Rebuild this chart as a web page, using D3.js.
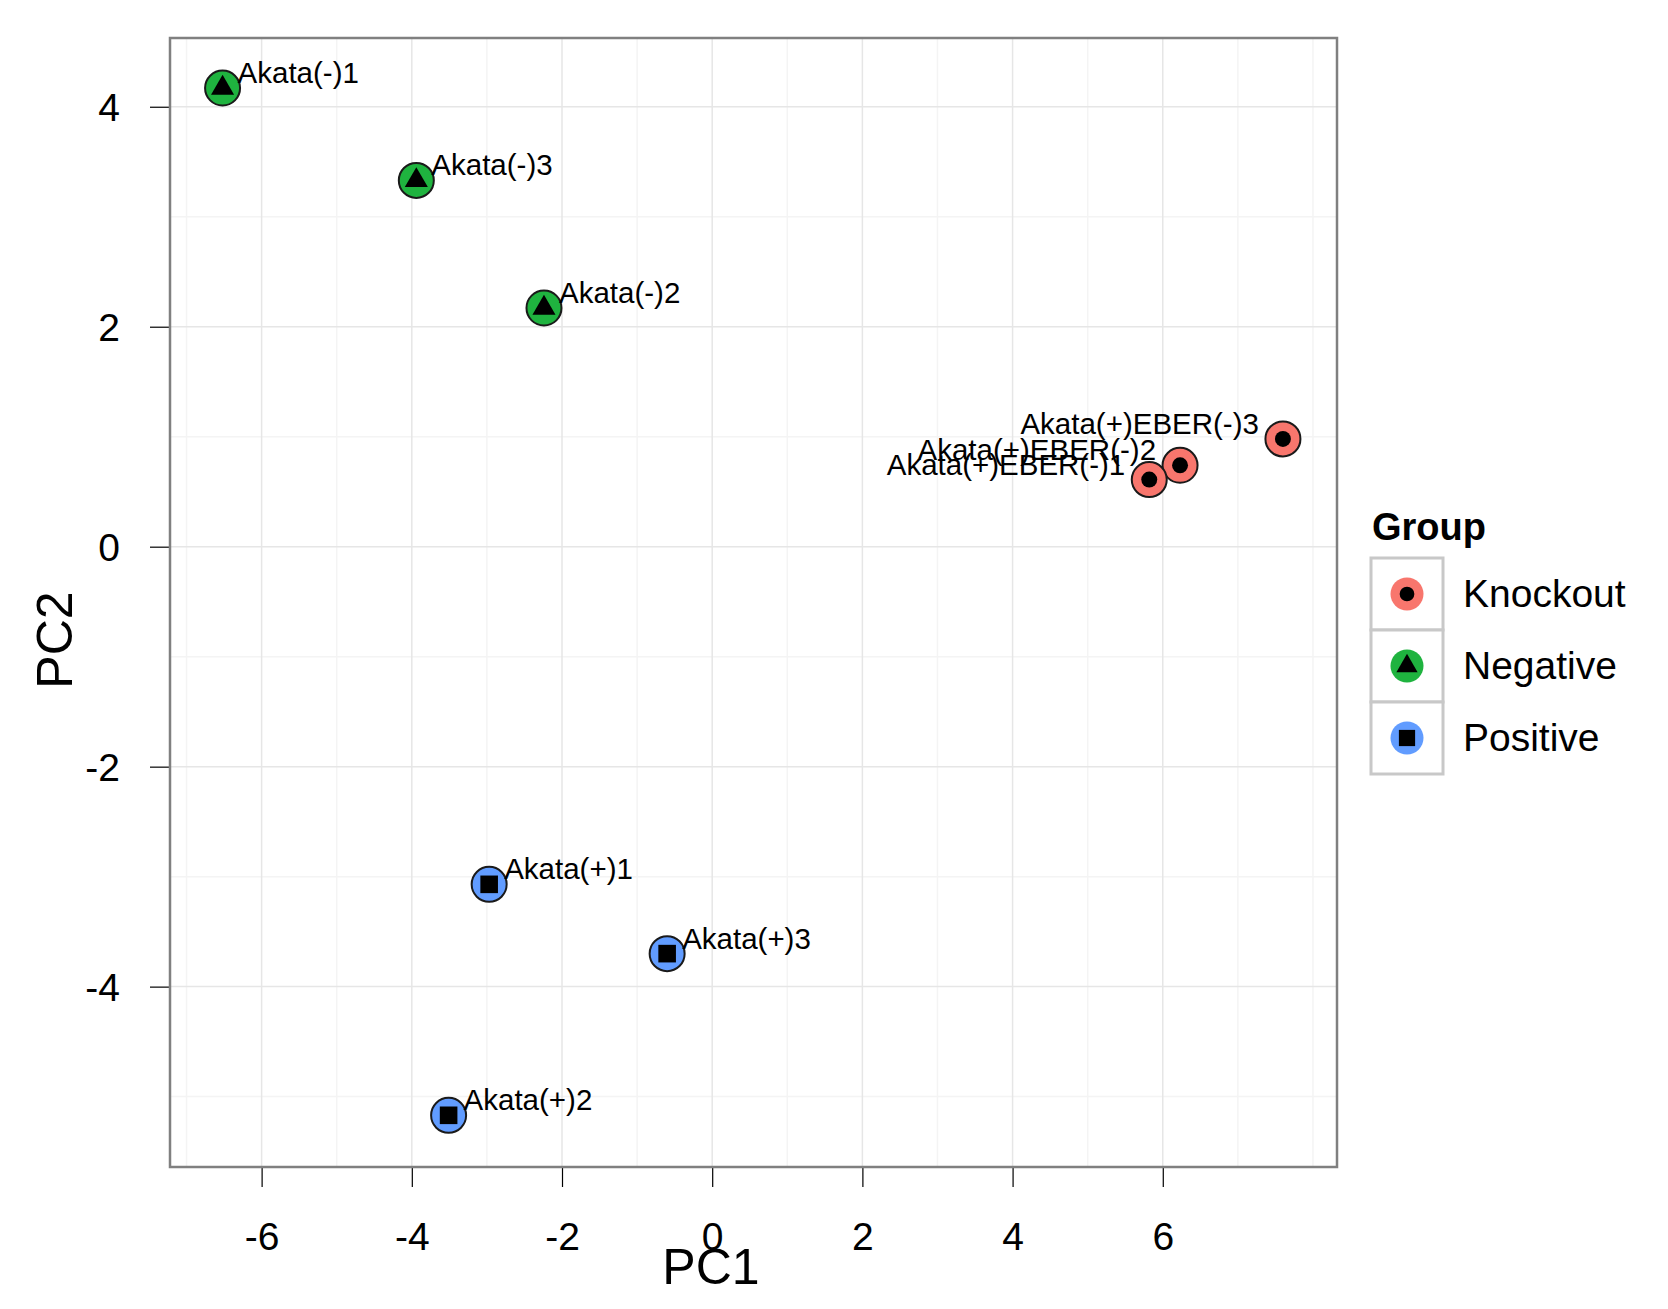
<!DOCTYPE html>
<html><head><meta charset="utf-8">
<script src="https://cdn.jsdelivr.net/npm/d3@7"></script>
<style>body{margin:0;background:#fff;} text{font-family:Arial,"Liberation Sans",sans-serif;}</style>
</head><body>
<svg id="c" width="1668" height="1309"></svg>
<script>
const sampleNames = ["Akata(-)1","Akata(-)3","Akata(-)2","Akata(+)EBER(-)3","Akata(+)EBER(-)2","Akata(+)EBER(-)1","Akata(+)1","Akata(+)3","Akata(+)2"];
const pc1Values = [-6.52,-3.94,-2.24,7.60,6.23,5.82,-2.97,-0.60,-3.51];
const pc2Values = [4.17,3.33,2.17,0.98,0.74,0.61,-3.07,-3.70,-5.17];
const sampleGroups = ["Negative","Negative","Negative","Knockout","Knockout","Knockout","Positive","Positive","Positive"];
const groupNames = ["Knockout","Negative","Positive"];
const groupColors = ["#F8766D","#1fb33f","#619CFF"];
const xTicks = [-6,-4,-2,0,2,4,6];
const yTicks = [-4,-2,0,2,4];
const xMinor = [-7,-5,-3,-1,1,3,5,7,8];
const yMinor = [-5,-3,-1,1,3];

const svg = d3.select("#c");
svg.append("rect").attr("width",1668).attr("height",1309).attr("fill","#fff");
const L=170,R=1337,T=38,B=1167;
const x = d3.scaleLinear().domain([-7.22,8.32]).range([L,R]);
const y = d3.scaleLinear().domain([-5.64,4.625]).range([B,T]);
const color = d3.scaleOrdinal().domain(groupNames).range(groupColors);
const shapeOf = {Knockout:d3.symbolCircle, Negative:d3.symbolTriangle, Positive:d3.symbolSquare};
const sizeOf = {Knockout:200, Negative:230, Positive:310};

const g = svg.append("g");
g.selectAll(".mx").data(xMinor).join("line").attr("x1",d=>x(d)).attr("x2",d=>x(d)).attr("y1",T).attr("y2",B).attr("stroke","#f4f4f4").attr("stroke-width",1.5);
g.selectAll(".my").data(yMinor).join("line").attr("y1",d=>y(d)).attr("y2",d=>y(d)).attr("x1",L).attr("x2",R).attr("stroke","#f4f4f4").attr("stroke-width",1.5);
g.selectAll(".gx").data(xTicks).join("line").attr("x1",d=>x(d)).attr("x2",d=>x(d)).attr("y1",T).attr("y2",B).attr("stroke","#e6e6e6").attr("stroke-width",1.5);
g.selectAll(".gy").data(yTicks).join("line").attr("y1",d=>y(d)).attr("y2",d=>y(d)).attr("x1",L).attr("x2",R).attr("stroke","#e6e6e6").attr("stroke-width",1.5);

const xAxis = d3.axisBottom(x).tickValues(xTicks).tickSize(20).tickPadding(30).tickFormat(d3.format("d"));
const yAxis = d3.axisLeft(y).tickValues(yTicks).tickSize(20).tickPadding(30).tickFormat(d3.format("d"));
const gx = svg.append("g").attr("transform",`translate(0,${B})`).call(xAxis);
const gy = svg.append("g").attr("transform",`translate(${L},0)`).call(yAxis);
[gx,gy].forEach(a=>{
  a.select(".domain").remove();
  a.selectAll(".tick line").attr("stroke","#000").attr("stroke-width",1.2);
  a.selectAll(".tick text").attr("fill","#000").style("font-size","39px").style("font-family","Arial, 'Liberation Sans', sans-serif").text(d=>d.toString().replace("\u2212","-"));
});
gx.selectAll(".tick text").attr("dy",null).attr("y",83);
gy.selectAll(".tick text").attr("dy","0.36em").attr("x",-50);

svg.append("rect").attr("x",L).attr("y",T).attr("width",R-L).attr("height",B-T).attr("fill","none").attr("stroke","#808080").attr("stroke-width",2.5);

svg.append("text").attr("x",711).attr("y",1284).attr("text-anchor","middle").style("font-size","50px").text("PC1");
svg.append("text").attr("transform","translate(72,640) rotate(-90)").attr("text-anchor","middle").style("font-size","50px").text("PC2");

const data = sampleNames.map((n,i)=>({name:n,x:pc1Values[i],y:pc2Values[i],group:sampleGroups[i]}));
const pts = svg.append("g").selectAll("g").data(data).join("g").attr("transform",d=>`translate(${x(d.x)},${y(d.y)})`);
pts.append("circle").attr("r",17.5).attr("fill",d=>color(d.group)).attr("stroke","#1a1a1a").attr("stroke-width",2);
pts.append("path").attr("d",d=>d3.symbol(shapeOf[d.group],sizeOf[d.group])()).attr("fill","#000");
svg.append("g").selectAll("text").data(data).join("text")
  .attr("x",d=>d.group==="Knockout"? x(d.x)-24 : x(d.x)+15)
  .attr("y",d=>y(d.y)-5)
  .attr("text-anchor",d=>d.group==="Knockout"?"end":"start")
  .style("font-size","29.5px").attr("fill","#000").text(d=>d.name);

const lg = svg.append("g");
lg.append("text").attr("x",1372).attr("y",540).style("font-size","38px").style("font-weight","bold").text("Group");
const rowH=72, lx=1371, ly=558, kw=72;
groupNames.forEach((gname,i)=>{
  const cy = ly + i*rowH;
  lg.append("rect").attr("x",lx).attr("y",cy).attr("width",kw).attr("height",rowH).attr("fill","#fff").attr("stroke","#c8c8c8").attr("stroke-width",3);
  lg.append("circle").attr("cx",lx+kw/2).attr("cy",cy+rowH/2).attr("r",16.5).attr("fill",color(gname));
  lg.append("path").attr("transform",`translate(${lx+kw/2},${cy+rowH/2})`).attr("d",d3.symbol(shapeOf[gname],sizeOf[gname]*0.85)()).attr("fill","#000");
  lg.append("text").attr("x",1463).attr("y",cy+rowH/2+13).style("font-size","39px").text(gname);
});
</script>
</body></html>
